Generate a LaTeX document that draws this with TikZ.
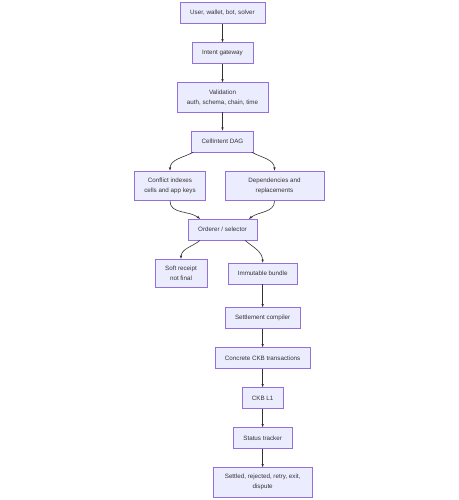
\documentclass[tikz,border=0pt]{standalone}
\usepackage{fontspec}
\setmainfont{Liberation Sans}
\usepackage{xcolor}
\usetikzlibrary{shapes,arrows,positioning}
\definecolor{boxfill}{HTML}{ECECFF}
\definecolor{boxline}{HTML}{9370DB}
\definecolor{edgecol}{HTML}{333333}
\tikzstyle{block} = [rectangle, draw=boxline, fill=boxfill, line width=1pt,
    text=edgecol, align=center, inner xsep=20pt, inner ysep=14pt,
    minimum height=42pt, font=\fontsize{12.5}{20}\selectfont]
\tikzstyle{wide} = [minimum width=199pt]
\tikzstyle{line} = [draw=edgecol, line width=1.2pt, -latex']

\begin{document}
\begin{tikzpicture}[node distance=37pt]
        \useasboundingbox (0,0) rectangle (916pt,-1000pt);
        % Intake
        \node [block] (source) at (445pt,-26pt) {User, wallet, bot, solver};
        \node [block, below=of source] (gateway) {Intent gateway};
        \node [block, below=of gateway] (validation) {Validation\\auth, schema, chain, time};
        \node [block, below=of validation] (dag) {CellIntent DAG};
        \node [block, below=of dag, xshift=-105pt] (conflicts) {Conflict indexes\\cells and app keys};
        \node [block, wide, below=of dag, xshift=104pt] (deps) {Dependencies and\\replacements};
        \node [block, below=36pt of conflicts, xshift=105pt] (orderer) {Orderer / selector};
        \node [block, below=of orderer, xshift=-83pt] (receipt) {Soft receipt\\not final};
        \node [block, right=41pt of receipt] (bundle) {Immutable bundle};

        % Settlement
        \node [block, below=46pt of bundle] (compiler) {Settlement compiler};
        \node [block, below=of compiler] (txs) {Concrete CKB transactions};
        \node [block, below=of txs] (layer1) {CKB L1};
        \node [block, below=of layer1] (tracker) {Status tracker};
        \node [block, wide, below=of tracker] (outcome) {Settled, rejected, retry, exit,\\dispute};

        % Connections
        \path [line] (source) -- (gateway);
        \path [line] (gateway) -- (validation);
        \path [line] (validation) -- (dag);
        \path [line] ([xshift=4pt]dag.south west) to[out=-150, in=90] (conflicts.north);
        \path [line] ([xshift=-4pt]dag.south east) to[out=-30, in=90] (deps.north);
        \path [line] (conflicts.south) to[out=-90, in=140] ([xshift=24pt]orderer.north west);
        \path [line] (deps.south) to[out=-90, in=40] ([xshift=-16pt]orderer.north east);
        \path [line] ([xshift=24pt]orderer.south west) to[out=-140, in=90] (receipt.north);
        \path [line] ([xshift=-24pt]orderer.south east) to[out=-40, in=90] (bundle.north);
        \path [line] (bundle) -- (compiler);
        \path [line] (compiler) -- (txs);
        \path [line] (txs) -- (layer1);
        \path [line] (layer1) -- (tracker);
        \path [line] (tracker) -- (outcome);
\end{tikzpicture}
\end{document}
